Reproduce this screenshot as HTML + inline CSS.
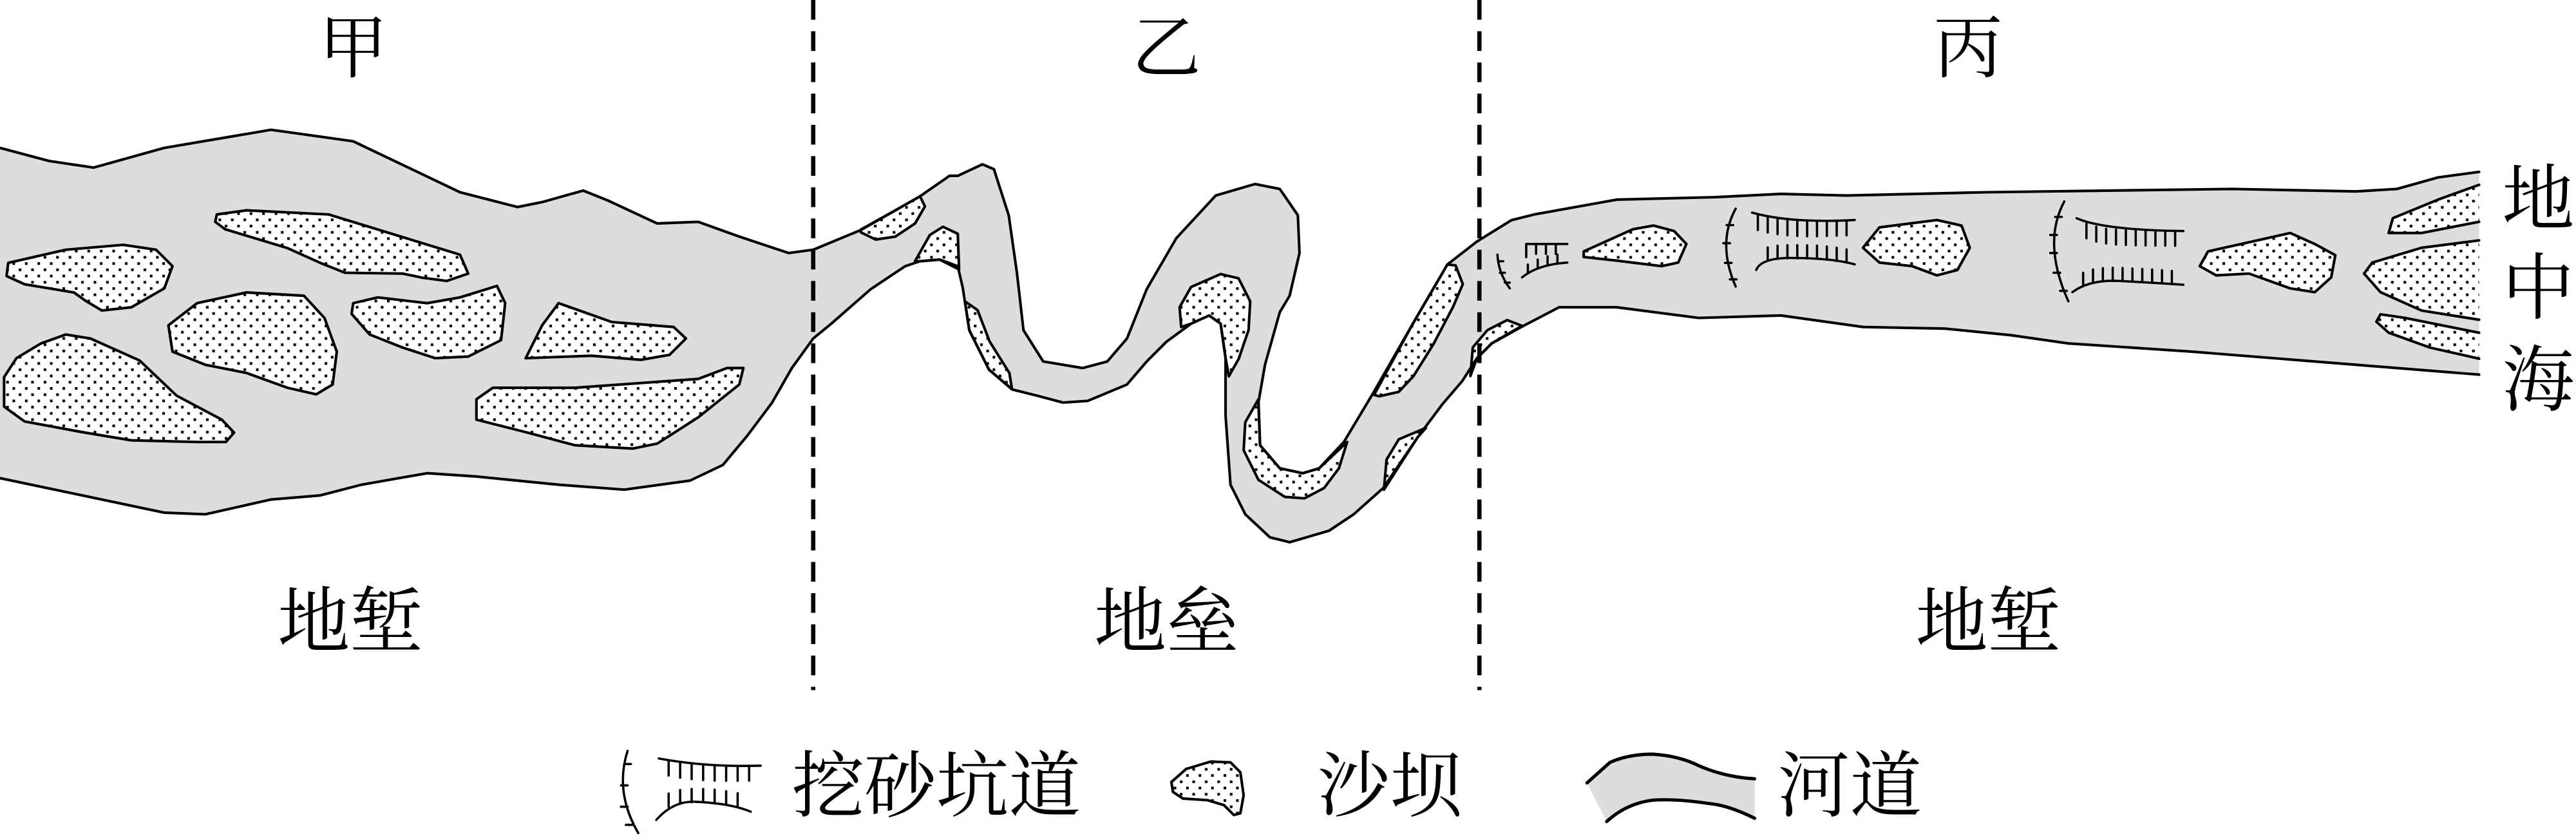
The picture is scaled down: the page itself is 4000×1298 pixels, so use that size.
<!DOCTYPE html>
<html><head><meta charset="utf-8"><style>
html,body{margin:0;padding:0;background:#fff;}
svg{display:block;}
text{font-family:"Liberation Serif","Noto Serif CJK SC",serif;fill:#000;}
</style></head><body>
<svg width="4000" height="1298" viewBox="0 0 1568 508.8" preserveAspectRatio="none" xmlns="http://www.w3.org/2000/svg">
<defs>
<pattern id="dots" width="7.6" height="7.6" patternUnits="userSpaceOnUse">
<rect width="7.6" height="7.6" fill="#fff"/>
<rect x="0" y="0" width="1.6" height="1.6" fill="#000"/>
<rect x="3.8" y="3.8" width="1.6" height="1.6" fill="#000"/>
</pattern>
</defs>
<g stroke="#000" stroke-width="1.6" stroke-linejoin="round" stroke-linecap="round">
<polygon stroke="none" fill="#dcdddc" points="0,90 30,98 57,102 100,90 165,79 215,86 280,117 315,126 330,123 355,116 370,122 400,136 425,135 450,144 480,154 495,152 524,140 560,119.5 578,107 583,107 598,100 605,103 614,131 619,166 623,201 635,220 659,224 674,220 686,206 698,176 716,145 740,119 764,112 779,115 790,131 791,154 785,180 779,190 770,222 766,245 767,271 779,285 793,288 803,285 818,269 836,239 860,197 881,161 899,147 920,134 934,130.5 984,121.5 1044,120 1084,118 1124,119 1209,117 1284,116 1359,115 1434,116.5 1459,115 1484,108 1509,104.6 1509,228 1434,222 1334,214 1259,209 1224,204 1184,200 1134,199 1084,192 1034,193.5 984,187 949,187 926,199 908,209 899,218 890,232 878,246 863,266 842,297 824,313 809,323 785,330 773,327 758,313 749,295 746,253 746,218 743,197 736,192 725,197 710,208 698,220 686,234 662,244 647,245 632,241 616,237 602,225 590,201 586,175 583,162 572,158 560,159 551,162 530,176 506,197 495,206 482,224 470,245 455,265 440,283 420,292.5 380,298 340,295 290,290 260,288 220,295 195,301.5 165,304 125,313 100,312 50,301.5 0,291"/>
<g fill="url(#dots)">
<polygon points="5,160 40,152 75,149 95,152 105,162 100,175.5 80,187 62,189 52,183 45,178 15,173 4,168"/>
<polygon points="132,130.5 150,128 200,130.5 280,155 285,166.5 272,171 257,169 245,166.5 210,166 195,160 175,151 137,139.5 131,135"/>
<polygon points="150,178 185,180 197.5,193.5 205,214 202.5,234 192.5,240 175,236 150,227 125,222 105,214 102.5,198 120,184.5"/>
<polygon points="215,184.5 230,181 260,184.5 280,181 302.5,174 307.5,184.5 305,207 285,217 265,218 245,211.5 225,203.6 214,191"/>
<polygon points="340,184.5 372.5,196 410,199 417.5,206 407.5,216 390,219 360,216.5 320,218 330,198"/>
<polygon points="40,203.6 55,206 85,219.4 107.5,240.8 135,255.4 142.5,263.3 137.5,269 120,269 80,268 50,263 15,256.5 2.5,247.5 2.5,229.5 10,218 25,209"/>
<polygon points="300,236 350,236 425,230.6 442.5,224 452.5,224 450,234 425,254 400,270 385,273 350,271 320,263 290,255.4 290,243"/>
<polygon points="524,139.7 545,128 560,119.5 563,125.6 557,136 545,144 533,145.8 524,141.4"/>
<polygon points="557,158.9 566,143 574,138 583,142.3 583.8,164 572,158 560,159"/>
<polygon points="587.4,183.4 595,188.7 602.4,207.9 614.4,227 616,236.8 602,225 590,201"/>
<polygon points="719,199 718,187 725,174.7 743,166.8 753.9,169.4 761,183.4 760,200.9 754,218.4 748,229 746,218 743,197 736,192 725,197"/>
<polygon points="766,243 758,257 757,274 766,292 782,302.4 794,303.3 806,297 815,285 820,269 803,285 793,288 779,285 767,271"/>
<polygon points="836.4,240.3 860,197 881,161 886,161.5 890.4,172.9 884.4,186.9 872.4,209.7 860.4,228.9 851.4,238.5 839.4,241.2"/>
<polygon points="842.4,298 844,279.7 851.4,267.4 868,260.4 863,266"/>
<polygon points="895,228.9 896.5,211.4 905.4,200.9 917.4,194.8 926.4,198.3 908,209 899,218"/>
<polygon points="964,153 994,139.5 1006.5,137.3 1019,140.6 1026.5,148.5 1021.5,159.8 1011.5,162 984,158.6 964,156.4"/>
<polygon points="1144,138.4 1179,133.9 1194,137.3 1199,150.8 1191.5,164.3 1179,167.6 1164,162 1144,159.8 1134,150.8"/>
<polygon points="1344,153 1374,146.3 1394,141.8 1409,148.5 1421.5,155.3 1419,168.8 1409,177.8 1394,175.5 1369,166.5 1349,167.6 1339,162"/>
<polyline points="1509,112.5 1484,121.5 1456.5,132.8 1454,141.8 1474,141.8 1509,135"/>
<polyline points="1509,146.3 1474,150.8 1444,159.8 1439,166.5 1449,177.8 1474,189 1509,194.6"/>
<polyline points="1509,202.5 1464,193.5 1449,191.3 1446.5,195.8 1454,202.5 1479,211.5 1509,218.3"/>
</g>
<polyline fill="none" points="0,90 30,98 57,102 100,90 165,79 215,86 280,117 315,126 330,123 355,116 370,122 400,136 425,135 450,144 480,154 495,152 524,140 560,119.5 578,107 583,107 598,100 605,103 614,131 619,166 623,201 635,220 659,224 674,220 686,206 698,176 716,145 740,119 764,112 779,115 790,131 791,154 785,180 779,190 770,222 766,245 767,271 779,285 793,288 803,285 818,269 836,239 860,197 881,161 899,147 920,134 934,130.5 984,121.5 1044,120 1084,118 1124,119 1209,117 1284,116 1359,115 1434,116.5 1459,115 1484,108 1509,104.6"/>
<polyline fill="none" points="0,291 50,301.5 100,312 125,313 165,304 195,301.5 220,295 260,288 290,290 340,295 380,298 420,292.5 440,283 455,265 470,245 482,224 495,206 506,197 530,176 551,162 560,159 572,158 583,162 586,175 590,201 602,225 616,237 632,241 647,245 662,244 686,234 698,220 710,208 725,197 736,192 743,197 746,218 746,253 749,295 758,313 773,327 785,330 809,323 824,313 842,297 863,266 878,246 890,232 899,218 908,209 926,199 949,187 984,187 1034,193.5 1084,192 1134,199 1184,200 1224,204 1259,209 1334,214 1434,222 1509,228"/>
<g fill="none" stroke-width="1.4">
<path d="M911.5,155 Q912,166 919,175.5"/>
<path d="M912,159 h3 M913,166 h3 M916,172 h3"/>
<path d="M929,148.5 H954 M929,148.5 v8 M935,148.5 v6 M941,148.5 v6 M947,148.5 v6"/>
<path d="M926.5,168.8 Q936,161 954,159.8 M930,166 v-5 M936,163 v-5 M942,161 v-5 M948,160 v-5"/>
<path d="M1056.5,127 Q1045,148 1056.5,174.4 M1051,137 h4 M1049,148 h4 M1050,160 h4 M1053,170 h4"/>
<path d="M1066.5,129.4 Q1090,136 1129,133.9"/>
<path d="M1070,131 v9 M1076,132.5 v9 M1082,133.5 v9 M1088,134.2 v9 M1094,134.6 v9 M1100,134.8 v9 M1106,134.8 v9 M1112,134.6 v9 M1118,134.4 v9 M1124,134.2 v9"/>
<path d="M1069,164.3 Q1072,157 1090,157 Q1115,157 1129,160.9"/>
<path d="M1076,158.6 v-8 M1082,157.5 v-8 M1088,157.2 v-8 M1094,157.2 v-8 M1100,157.3 v-8 M1106,157.5 v-8 M1112,158 v-8 M1118,158.8 v-8 M1124,159.8 v-8"/>
<path d="M1256.5,122.6 Q1243,148 1259,183.4 M1251,132 h4 M1248,143 h4 M1248,154 h4 M1250,166 h4 M1254,177 h4"/>
<path d="M1264,132.8 Q1280,140 1329,140.6"/>
<path d="M1270,136 v9 M1276,138 v9 M1282,139.2 v9 M1288,139.8 v9 M1294,140.1 v9 M1300,140.3 v9 M1306,140.4 v9 M1312,140.5 v9 M1318,140.5 v9 M1324,140.6 v9"/>
<path d="M1261.5,177.8 Q1272,170 1290,171 Q1310,172 1329,173.3"/>
<path d="M1268,174 v-8 M1274,172 v-8 M1280,171.2 v-8 M1286,171 v-8 M1292,171.1 v-8 M1298,171.4 v-8 M1304,171.7 v-8 M1310,172 v-8 M1316,172.4 v-8 M1322,172.9 v-8"/>
</g>
<line x1="495" y1="0" x2="495" y2="420" stroke-width="2.6" stroke-dasharray="12,7" stroke-linecap="butt"/>
<line x1="900.5" y1="0" x2="900.5" y2="420" stroke-width="2.6" stroke-dasharray="12,7" stroke-linecap="butt"/>
<g fill="none" stroke-width="1.4">
<path d="M382,457 Q374,482 388.5,507 M380,465 h4 M378,478 h4 M378,491 h4 M381,502 h4"/>
<path d="M401,461.6 Q430,467 463,466 M407,463 v9 M414,464.3 v9 M421,465.2 v9 M428,465.8 v9 M435,466.1 v9 M442,466.2 v9 M449,466.2 v9 M456,466.1 v9"/>
<path d="M399.5,499 Q410,487 424,488 Q445,489 457,494 M407,491 v-8 M414,488.8 v-8 M421,488.2 v-8 M428,488.2 v-8 M435,488.6 v-8 M442,489.5 v-8 M449,490.8 v-8"/>
</g>
<polygon fill="url(#dots)" points="713,476 722,468 737,463.5 749,464 755,470 757,484 755,495 751,496 745,490 735,487 720,486 714,482"/>
<path d="M966,476.5 L980,464 Q991,459 1006,459 Q1022,460 1034,466 Q1050,473 1068,474 L1068,498 Q1052,490 1040,489 Q1020,486 1006,487 Q990,489 978,500 Z" fill="#dcdddc" stroke="none"/>
<path d="M966,476.5 L980,464 Q991,459 1006,459 Q1022,460 1034,466 Q1050,473 1068,474" fill="none" stroke-width="2"/>
<path d="M978,500 Q990,489 1006,487 Q1020,486 1040,489 Q1052,490 1068,498" fill="none" stroke-width="2"/>
</g>
<g font-size="42" text-anchor="middle" dominant-baseline="central">
<text x="215" y="30">甲</text>
<text x="710" y="30">乙</text>
<text x="1198" y="30">丙</text>
</g>
<g font-size="44" text-anchor="middle" dominant-baseline="central">
<text x="1545" y="122">地</text>
<text x="1545" y="176">中</text>
<text x="1545" y="232">海</text>
<text x="213" y="379">地堑</text>
<text x="710" y="379">地垒</text>
<text x="1210" y="379">地堑</text>
</g>
<g font-size="44" dominant-baseline="central">
<text x="482" y="479">挖砂坑道</text>
<text x="802" y="479">沙坝</text>
<text x="1082" y="479">河道</text>
</g>
</svg>
</body></html>
